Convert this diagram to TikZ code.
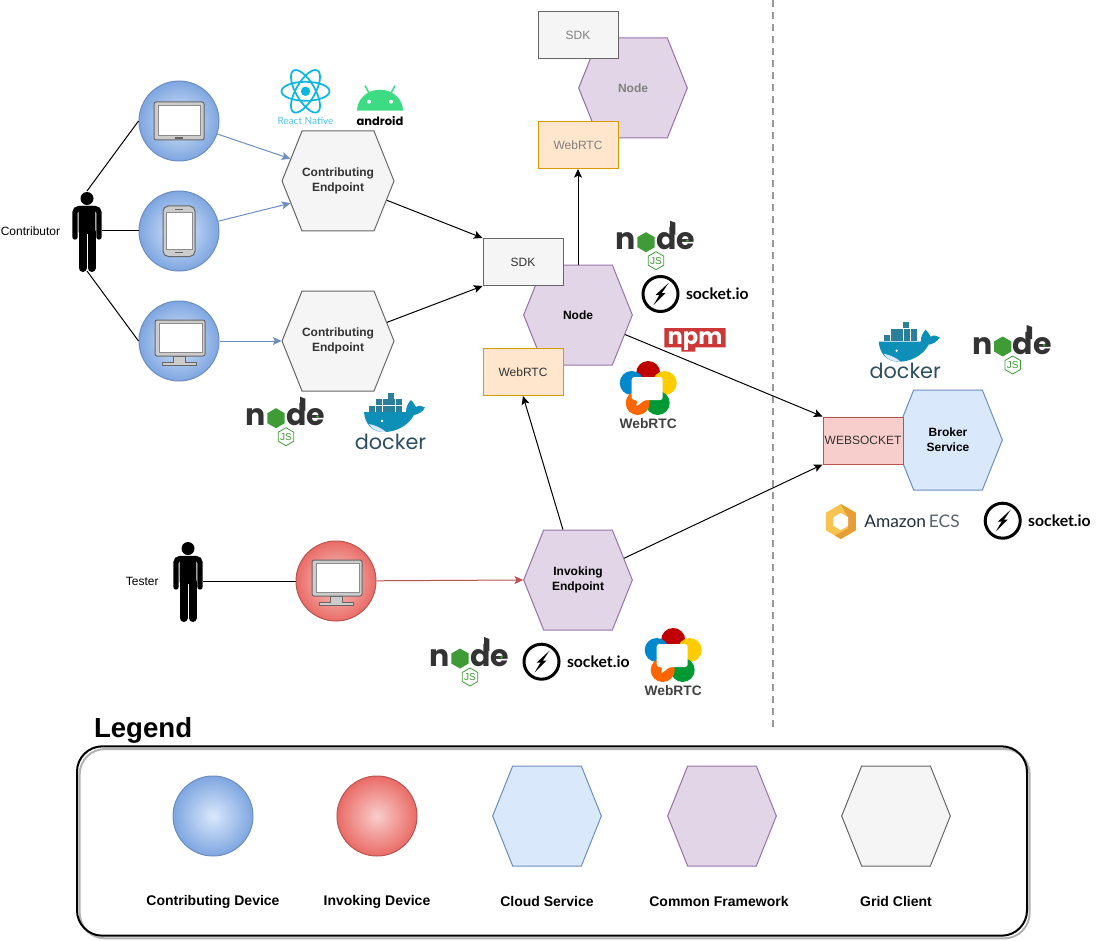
\documentclass[tikz,border=0pt]{standalone}
\usepackage{fontspec}
\setmainfont{Liberation Sans}
\newfontfamily\poppinsfont{Poppins}
\newfontfamily\latofont{Lato}
\usepackage{xcolor}
\usetikzlibrary{arrows.meta,positioning,calc,shapes.symbols,shadows}
\definecolor{clientfill}{HTML}{F5F5F5}
\definecolor{clientdraw}{HTML}{666666}
\definecolor{commonfill}{HTML}{E1D5E7}
\definecolor{commondraw}{HTML}{9673A6}
\definecolor{cloudfill}{HTML}{DAE8FC}
\definecolor{clouddraw}{HTML}{6C8EBF}
\definecolor{rtcfill}{HTML}{FFE6CC}
\definecolor{rtcdraw}{HTML}{D79B00}
\definecolor{sockfill}{HTML}{F8CECC}
\definecolor{sockdraw}{HTML}{B85450}
\definecolor{bluedeep}{HTML}{7EA6E0}
\definecolor{reddeep}{HTML}{EA6B66}
\definecolor{nodedark}{HTML}{333333}
\definecolor{nodegreen}{HTML}{3F9B35}
\definecolor{dockerteal}{HTML}{2D4F5E}
\definecolor{dockerblue}{HTML}{0E8FB7}
\definecolor{dockerbox}{HTML}{2B7F9B}
\definecolor{reactblue}{HTML}{0DB7E4}
\definecolor{reacttext}{HTML}{4FC3EA}
\definecolor{droidgreen}{HTML}{3DDC84}
\definecolor{npmred}{HTML}{CB3837}
\definecolor{rtcred}{HTML}{C00000}
\definecolor{rtcyellow}{HTML}{FFCC00}
\definecolor{rtcblue}{HTML}{0088CC}
\definecolor{rtcgreen}{HTML}{009933}
\definecolor{rtcorange}{HTML}{FF6600}
\definecolor{ecsgold}{HTML}{F8C44F}
\definecolor{ecsorange}{HTML}{E69D36}
\definecolor{ecsdark}{HTML}{232F3E}
\tikzset{
    iconframe/.style={draw=black!60, fill=black!20, line width=.75pt},
    iconscreen/.style={draw=black!45, fill=white, line width=.75pt},
    pics/personicon/.style={code={
        \fill (0,-33.5) circle (6.5);
        \fill[rounded corners=1.5pt] (-8.3,-26) rectangle (8.3,2);
        \draw[line width=4pt, line cap=round, rounded corners=3pt] (-12,5) -- (-12,-23.4) -- (12,-23.4) -- (12,5);
        \draw[line width=6pt, line cap=round] (-4.5,0) -- (-4.5,36);
        \draw[line width=6pt, line cap=round] (4.5,0) -- (4.5,36);
    }},
    pics/tableticon/.style={code={
        \draw[iconframe, rounded corners=1.5pt] (-25,-19) rectangle (25,19);
        \draw[iconscreen] (-21,-15) rectangle (21,15);
        \fill[black!60] (-4,15.8) rectangle (4,17.8);
    }},
    pics/phoneicon/.style={code={
        \draw[iconframe, rounded corners=4pt] (-16,-25) rectangle (16,25.5);
        \draw[iconscreen] (-13,-18) rectangle (13,18);
        \fill[black!60] (-4,-22) rectangle (4,-20.5);
        \fill[black!60] (-4,20.5) rectangle (4,22);
    }},
    pics/desktopicon/.style={code={
        \draw[iconframe] (-6,15) -- (-6,21) -- (-17,21) -- (-17,24.5) -- (17,24.5) -- (17,21) -- (6,21) -- (6,15) -- cycle;
        \draw[iconframe, rounded corners=1.5pt] (-24,-21) rectangle (26,15);
        \draw[iconscreen] (-20,-17.7) rectangle (23,11);
    }},
    pics/nodelogo/.style={code={
        \node[anchor=base west, inner sep=0pt, text=nodedark, font=\poppinsfont\bfseries\fontsize{22.5}{22.5}\selectfont] (-n) at (-1,29) {n};
        \fill[nodegreen] (30,11.5) -- (38.7,16.5) -- (38.7,26.5) -- (30,31.5) -- (21.3,26.5) -- (21.3,16.5) -- cycle;
        \node[anchor=base west, inner sep=0pt, text=nodedark, font=\poppinsfont\bfseries\fontsize{22.5}{22.5}\selectfont] (-de) at (39.5,29) {de};
        \fill[nodedark] (54,0) -- (59.3,2) -- (59.3,14) -- (54,14) -- cycle;
        \fill[nodegreen] (71.5,20) circle (1.5);
        \draw[nodegreen, line width=.6pt] (40,31) -- (47.8,35.5) -- (47.8,44.5) -- (40,49) -- (32.2,44.5) -- (32.2,35.5) -- cycle;
        \node[inner sep=0pt, text=nodegreen, font=\fontsize{7.5}{7.5}\selectfont] (-js) at (40,40) {JS};
    }},
    pics/socketlogo/.style={code={
        \draw[line width=2.25pt] (0,0) circle (17.5);
        \fill (8,-11) -- (-5,1) -- (0,1) -- cycle;
        \fill (-7,11) -- (5,-1) -- (0,-1) -- cycle;
        \node[anchor=west, inner sep=0pt, font=\latofont\bfseries\fontsize{11.8}{11.8}\selectfont] (-label) at (25,0) {socket.io};
    }},
    pics/dockerlogo/.style={code={
        \foreach \xcell/\ycell in {32/.5, 20/7, 26.6/7, 33.2/7, 39.8/7, 13.4/13.5, 20/13.5, 26.6/13.5, 33.2/13.5, 39.8/13.5}
            \fill[dockerbox] (\xcell,\ycell) rectangle +(6,6);
        \fill[dockerblue] (8,20) -- (50,20) .. controls (50,14) and (53,10) .. (55,8) .. controls (58,11) and (59,14) .. (60,15) .. controls (63,13) and (66,14) .. (69,15.5) .. controls (66,21) and (62,22) .. (58,23) .. controls (52,34) and (40,40) .. (28,40) .. controls (16,40) and (9,32) .. (8,20) -- cycle;
        \fill[cloudfill] (13,32) .. controls (18,33) and (24,35) .. (30,40) .. controls (22,40) and (16,38) .. (13,32) -- cycle;
        \fill[white] (26,29) circle (1.3);
        \node[anchor=base, inner sep=0pt, text=dockerteal, font=\poppinsfont\fontsize{15.6}{15.6}\selectfont] (-label) at (34.5,57) {docker};
    }},
    pics/webrtclogo/.style={code={
        \fill[rtcred] (27.5,12) circle (12);
        \fill[rtcyellow] (44,22) circle (12);
        \fill[rtcblue] (11,22) circle (12);
        \fill[rtcgreen] (37,42) circle (12);
        \fill[rtcorange] (17,42) circle (12);
        \fill[white, rounded corners=2pt] (11,16) -- (42,16) -- (42,39) -- (24,39) -- (15,46) -- (17,39) -- (11,39) -- cycle;
        \node[anchor=base, inner sep=0pt, text=black!75, font=\bfseries\fontsize{10.3}{10.3}\selectfont] (-label) at (27.5,67) {WebRTC};
    }},
    pics/npmlogo/.style={code={
        \fill[npmred] (0,0) -- (61.4,0) -- (61.4,19.3) -- (31,19.3) -- (31,23.7) -- (17,23.7) -- (17,19.3) -- (0,19.3) -- cycle;
        \node[anchor=base, inner sep=0pt, text=white, font=\poppinsfont\bfseries\fontsize{17}{17}\selectfont] (-label) at (30.7,16) {npm};
    }},
    pics/androidlogo/.style={code={
        \draw[droidgreen, line width=1.2pt] (-15,-25) -- (-10,-16);
        \draw[droidgreen, line width=1.2pt] (15,-25) -- (10,-16);
        \fill[droidgreen] (-23,0) arc[start angle=180, end angle=360, x radius=23, y radius=21];
        \fill[white] (-11,-9) circle (2);
        \fill[white] (11,-9) circle (2);
        \node[anchor=base, inner sep=0pt, font=\poppinsfont\bfseries\fontsize{8.6}{8.6}\selectfont] (-label) at (0,15) {android};
    }},
    pics/reactlogo/.style={code={
        \draw[reactblue, line width=1.3pt] (0,0) ellipse (24 and 9.5);
        \draw[reactblue, line width=1.3pt, rotate=60] (0,0) ellipse (24 and 9.5);
        \draw[reactblue, line width=1.3pt, rotate=120] (0,0) ellipse (24 and 9.5);
        \fill[reactblue] (0,0) circle (4.7);
        \node[inner sep=0pt, text=reacttext, font=\latofont\fontsize{7.5}{7.5}\selectfont] (-label) at (0,29.7) {React Native};
    }},
    pics/ecslogo/.style={code={
        \fill[ecsgold] (0,-17.5) -- (15,-8.75) -- (15,8.75) -- (0,17.5) -- (-15,8.75) -- (-15,-8.75) -- cycle;
        \fill[ecsorange] (0,-17.5) -- (15,-8.75) -- (15,8.75) -- (0,17.5) -- (-6,14) -- (7,7) -- (7,-4) -- cycle;
        \fill[white] (0,-8.5) -- (7.4,-4.25) -- (7.4,4.25) -- (0,8.5) -- (-7.4,4.25) -- (-7.4,-4.25) -- cycle;
        \node[anchor=west, inner sep=0pt, text=ecsdark, font=\latofont\fontsize{13}{13}\selectfont] (-label) at (23,0) {Amazon{\color{ecsdark!75}\,ECS}};
    }},
}
\begin{document}
\begin{tikzpicture}[
    x=.75pt, y=-.75pt,
    >={Stealth[length=6.5pt,width=6pt,inset=1.5pt]},
    line width=.75pt, black,
    hexnode/.style={signal, signal to=east and west, signal pointer angle=136.4, align=center, inner sep=0pt, minimum width=81.5pt, minimum height=75pt, font=\bfseries\fontsize{9}{11.25}\selectfont},
    clienthex/.style={hexnode, draw=clientdraw, fill=clientfill, text=nodedark},
    commonhex/.style={hexnode, draw=commondraw, fill=commonfill},
    cloudhex/.style={hexnode, draw=clouddraw, fill=cloudfill},
    portnode/.style={rectangle, align=center, inner sep=0pt, minimum width=60pt, minimum height=35.25pt, font=\fontsize{9}{11.25}\selectfont},
    sdkport/.style={portnode, draw=clientdraw, fill=clientfill, text=nodedark},
    rtcport/.style={portnode, draw=rtcdraw, fill=rtcfill, text=nodedark},
    sockport/.style={portnode, draw=sockdraw, fill=sockfill, text=nodedark},
    bluedevice/.style={circle, inner sep=0pt, minimum size=60pt, draw=clouddraw, inner color=cloudfill, outer color=bluedeep},
    reddevice/.style={circle, inner sep=0pt, minimum size=60pt, draw=sockdraw, inner color=sockfill, outer color=reddeep},
    actornode/.style={rectangle, inner sep=0pt, outer sep=0pt, minimum width=22.5pt, minimum height=60pt},
    plainlabel/.style={inner sep=0pt, font=\fontsize{9}{11.25}\selectfont},
    legendlabel/.style={inner sep=0pt, font=\bfseries\fontsize{10.5}{12}\selectfont},
    fadedtext/.style={text=black!50}
    ]
    \useasboundingbox (0,0) rectangle (1098,941);

    %Nodes
    \node[actornode]  (contributor)   at (87,231)  {};
    \node[plainlabel] (contributor_label) [left=8.5pt of contributor] {Contributor};
    \node[bluedevice] (tablet)        at (179,121) {};
    \node[bluedevice] (phone)         at (179,231) {};
    \node[bluedevice] (desktop)       at (179,341) {};
    \node[clienthex]  (endpoint1)     at (338,181) {Contributing\\Endpoint};
    \node[clienthex]  (endpoint2)     at (338,341) {Contributing\\Endpoint};

    \node[commonhex]  (node_main)     at (578,315) {Node};
    \node[sdkport]    (sdk_main)      at (523,262) {SDK};
    \node[rtcport]    (webrtc_main)   at (523,372) {WebRTC};
    \node[commonhex, fadedtext] (node_peer) at (633,88) {Node};
    \node[sdkport, fadedtext]   (sdk_peer)  at (578,35) {SDK};
    \node[rtcport, fadedtext]   (webrtc_peer) at (578,145) {WebRTC};

    \node[actornode]  (tester)        at (188,581) {};
    \node[plainlabel] (tester_label)  [left=10.5pt of tester] {Tester};
    \node[reddevice]  (invoker)       at (336,581) {};
    \node[commonhex]  (invoking)      at (578,580) {Invoking\\Endpoint};

    \node[cloudhex]   (broker)        at (948,440) {Broker\\Service};
    \node[sockport]   (websocket)     at (863,440.5) {WEBSOCKET};

    %Dashed divider
    \coordinate (divider_top)    at (773,0);
    \coordinate (divider_bottom) at (773,727);
    \draw[black!40, line width=1.5pt, dash pattern=on 5pt off 4pt] (divider_top) -- (divider_bottom);

    %Lines
    \draw    (contributor.north) -- (tablet.west);
    \draw    (contributor.east)  -- (phone.west);
    \draw    (contributor.south) -- (desktop.west);
    \draw    (tester.east)       -- (invoker.west);
    \draw[->, clouddraw] (tablet)  -- (endpoint1.155);
    \draw[->, clouddraw] (phone)   -- (endpoint1.205);
    \draw[->, clouddraw] (desktop) -- (endpoint2.west);
    \draw[->, sockdraw]  (invoker) -- (invoking.west);
    \draw[->] (endpoint1)        -- (sdk_main.north west);
    \draw[->] (endpoint2)        -- (sdk_main.south west);
    \draw[->] (node_main)        -- (websocket.north west);
    \draw[->] (invoking)         -- (websocket.south west);
    \draw[->] (invoking)         -- (webrtc_main.south);
    \draw[->] (node_main.north)  -- (webrtc_peer.south);

    %Icons
    \pic at ([yshift=-.75pt]contributor.center) {personicon};
    \pic at ([yshift=-.75pt]tester.center)      {personicon};
    \pic at (tablet.center)      {tableticon};
    \pic at (phone.center)       {phoneicon};
    \pic at (desktop.center)     {desktopicon};
    \pic at (invoker.center)     {desktopicon};

    %Logos
    \pic (react1)   at (305.5,91.3) {reactlogo};
    \pic (droid1)   at (380,110.7)  {androidlogo};
    \pic (nodejs1)  at (246,396.7)  {nodelogo};
    \pic (docker1)  at (356,392)    {dockerlogo};
    \pic (nodejs2)  at (616,220.7)  {nodelogo};
    \pic (socket1)  at (660.5,294)  {socketlogo};
    \pic (npm1)     at (664.3,328)  {npmlogo};
    \pic (webrtc1)  at (620.7,361)  {webrtclogo};
    \pic (docker2)  at (870.7,321.7) {dockerlogo};
    \pic (nodejs3)  at (972.7,325)  {nodelogo};
    \pic (ecs1)     at (840.8,521.5) {ecslogo};
    \pic (socket2)  at (1002.7,520.7) {socketlogo};
    \pic (nodejs4)  at (430,637)    {nodelogo};
    \pic (socket3)  at (541.5,661.7) {socketlogo};
    \pic (webrtc2)  at (645.7,628)  {webrtclogo};

    %Legend
    \node[anchor=base west, inner sep=0pt, font=\bfseries\fontsize{20.7}{24}\selectfont] (legend_title) at (93.5,737) {Legend};
    \node[rectangle, minimum width=712.5pt, minimum height=142pt, inner sep=0pt, rounded corners=19pt, draw, line width=1.5pt,
        general shadow={shadow xshift=2pt, shadow yshift=-2pt, draw=black!30, line width=1.5pt}] (legend_box) at (552,841) {};
    \node[bluedevice] (legend_contributing) at (213,816) {};
    \node[reddevice]  (legend_invoking)     at (377,816) {};
    \node[cloudhex]   (legend_cloud)        at (547,816) {};
    \node[commonhex]  (legend_common)       at (722,816) {};
    \node[clienthex]  (legend_client)       at (896,816) {};
    \node[legendlabel] (label_contributing) at (213,901.5) {Contributing Device};
    \node[legendlabel] (label_invoking)     at (377,901.5) {Invoking Device};
    \node[legendlabel] (label_cloud)        at (547,901.5) {Cloud Service};
    \node[legendlabel] (label_common)       at (719,901.5) {Common Framework};
    \node[legendlabel] (label_client)       at (896,901.5) {Grid Client};
\end{tikzpicture}
\end{document}
